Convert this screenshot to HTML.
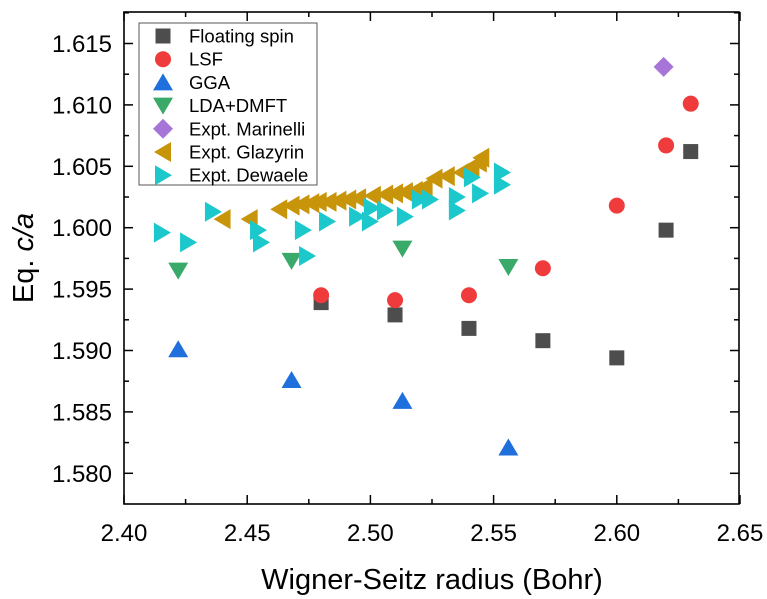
<!DOCTYPE html>
<html><head><meta charset="utf-8"><style>
html,body{margin:0;padding:0;background:#fff;}
svg{display:block;font-family:"Liberation Sans",Arial,sans-serif;}
</style></head><body>
<svg id="chart" width="767" height="599" viewBox="0 0 767 599"></svg>
<script>
const xTicks=[2.40,2.45,2.50,2.55,2.60,2.65];
const xTickLabels=["2.40","2.45","2.50","2.55","2.60","2.65"];
const yTicks=[1.580,1.585,1.590,1.595,1.600,1.605,1.610,1.615];
const yTickLabels=["1.580","1.585","1.590","1.595","1.600","1.605","1.610","1.615"];
const seriesNames=["Floating spin","LSF","GGA","LDA+DMFT","Expt. Marinelli","Expt. Glazyrin","Expt. Dewaele"];
const floatX=[2.48,2.51,2.54,2.57,2.60,2.62,2.63];
const floatY=[1.5939,1.5929,1.5918,1.5908,1.5894,1.5998,1.6062];
const lsfX=[2.48,2.51,2.54,2.57,2.60,2.62,2.63];
const lsfY=[1.5945,1.5941,1.5945,1.5967,1.6018,1.6067,1.6101];
const ggaX=[2.422,2.468,2.513,2.556];
const ggaY=[1.5901,1.5876,1.5859,1.5821];
const dmftX=[2.422,2.468,2.513,2.556];
const dmftY=[1.5965,1.5973,1.5983,1.5968];
const marX=[2.619];
const marY=[1.6131];
const glaX=[2.440,2.451,2.463,2.468,2.472,2.476,2.479,2.483,2.487,2.491,2.495,2.501,2.506,2.510,2.514,2.518,2.522,2.526,2.531,2.537,2.541,2.544,2.545];
const glaY=[1.6007,1.6007,1.6015,1.6018,1.6019,1.6020,1.6021,1.6021,1.6022,1.6023,1.6024,1.6026,1.6027,1.6028,1.6029,1.6030,1.6033,1.6040,1.6042,1.6045,1.6049,1.6053,1.6057];
const dewX=[2.4154,2.4260,2.4361,2.4544,2.4556,2.4726,2.4743,2.4824,2.4946,2.4998,2.5006,2.5059,2.5140,2.5201,2.5242,2.5351,2.5351,2.5412,2.5445,2.5534,2.5534];
const dewY=[1.5996,1.5988,1.6013,1.5998,1.5988,1.5998,1.5977,1.6005,1.6009,1.6005,1.6016,1.6014,1.6009,1.6023,1.6023,1.6025,1.6014,1.6041,1.6028,1.6045,1.6035];

const NS="http://www.w3.org/2000/svg";
const svg=document.getElementById('chart');
const L=124,R=739,T=12,B=504;
function xs(v){return L+(v-2.40)/0.05*123.2;}
function ys(v){return 473.3-(v-1.580)/0.005*61.4;}
function mk(tag,attrs,parent){const e=document.createElementNS(NS,tag);for(const k in attrs)e.setAttribute(k,attrs[k]);(parent||svg).appendChild(e);return e;}

const axes=mk('g',{});


mk('rect',{x:L,y:T,width:R-L,height:B-T,fill:'none',stroke:'#000','stroke-width':1.6},axes);
for(let i=0;i<xTicks.length;i++){
  const x=xs(xTicks[i]);
  mk('line',{x1:x,y1:B,x2:x,y2:B-9,stroke:'#000','stroke-width':1.5},axes);
  mk('line',{x1:x,y1:T,x2:x,y2:T+9,stroke:'#000','stroke-width':1.5},axes);
  if(i<xTicks.length-1){const xm=xs(xTicks[i]+0.025);
    mk('line',{x1:xm,y1:B,x2:xm,y2:B-5,stroke:'#000','stroke-width':1.5},axes);
    mk('line',{x1:xm,y1:T,x2:xm,y2:T+5,stroke:'#000','stroke-width':1.5},axes);}
  const t=mk('text',{x:x,y:541,'text-anchor':'middle','font-size':24,fill:'#000'},axes);
  t.textContent=xTickLabels[i];
  
  
}
for(let i=0;i<yTicks.length;i++){
  const y=ys(yTicks[i]);
  mk('line',{x1:L,y1:y,x2:L+9,y2:y,stroke:'#000','stroke-width':1.5},axes);
  mk('line',{x1:R,y1:y,x2:R-9,y2:y,stroke:'#000','stroke-width':1.5},axes);
  const ym=ys(yTicks[i]+0.0025);
  if(ym>T){mk('line',{x1:L,y1:ym,x2:L+5,y2:ym,stroke:'#000','stroke-width':1.5},axes);
    mk('line',{x1:R,y1:ym,x2:R-5,y2:ym,stroke:'#000','stroke-width':1.5},axes);}
  const t=mk('text',{x:112,y:y+8.5,'text-anchor':'end','font-size':24,fill:'#000'},axes);
  t.textContent=yTickLabels[i];
  
  
}
const xt=mk('text',{x:432,y:589,'text-anchor':'middle','font-size':29,fill:'#000'});
xt.textContent='Wigner-Seitz radius (Bohr)';


const yt=mk('text',{transform:'translate(33,258) rotate(-90)','text-anchor':'middle','font-size':29,fill:'#000'});
yt.innerHTML='Eq. <tspan font-style="italic">c/a</tspan>';



function marker(type,cx,cy,color,parent){
  const s=9;
  if(type==='sq')return mk('rect',{x:cx-7.5,y:cy-7.5,width:15,height:15,fill:color},parent);
  if(type==='ci')return mk('circle',{cx:cx,cy:cy,r:8,fill:color},parent);
  if(type==='up')return mk('polygon',{points:`${cx},${cy-s} ${cx+s+1},${cy+s-1} ${cx-s-1},${cy+s-1}`,fill:color},parent);
  if(type==='dn')return mk('polygon',{points:`${cx},${cy+s} ${cx+s+1},${cy-s+1} ${cx-s-1},${cy-s+1}`,fill:color},parent);
  if(type==='di')return mk('polygon',{points:`${cx},${cy-10} ${cx+10},${cy} ${cx},${cy+10} ${cx-10},${cy}`,fill:color},parent);
  if(type==='lt')return mk('polygon',{points:`${cx-s},${cy} ${cx+s-1},${cy-s-1} ${cx+s-1},${cy+s+1}`,fill:color},parent);
  if(type==='rt')return mk('polygon',{points:`${cx+s},${cy} ${cx-s+1},${cy-s-1} ${cx-s+1},${cy+s+1}`,fill:color},parent);
}
const series=[
 ['floating-spin','sq','#4d4d4d',floatX,floatY],
 ['lsf','ci','#ef3b3b',lsfX,lsfY],
 ['gga','up','#1f6fdd',ggaX,ggaY],
 ['lda-dmft','dn','#3aaa6a',dmftX,dmftY],
 ['expt-marinelli','di','#a774d8',marX,marY],
 ['expt-glazyrin','lt','#c8950a',glaX,glaY],
 ['expt-dewaele','rt','#1cc8cc',dewX,dewY]
];
series.forEach(s=>{
  const g=mk('g',{});
  
  
  for(let i=0;i<s[3].length;i++){
    const m=marker(s[1],xs(s[3][i]),ys(s[4][i]),s[2],g);
    
    
  }
});
const lg=mk('g',{});


mk('rect',{x:139,y:23,width:178,height:162,fill:'#fff',stroke:'#555','stroke-width':1},lg);
series.forEach((s,i)=>{
  const y=36+i*23.2;
  const e=mk('g',{},lg);
  
  
  marker(s[1],163,y,s[2],e);
  const t=mk('text',{x:189,y:y+6.5,'font-size':18.5,fill:'#000'},e);
  t.textContent=seriesNames[i];
});
</script>
</body></html>
